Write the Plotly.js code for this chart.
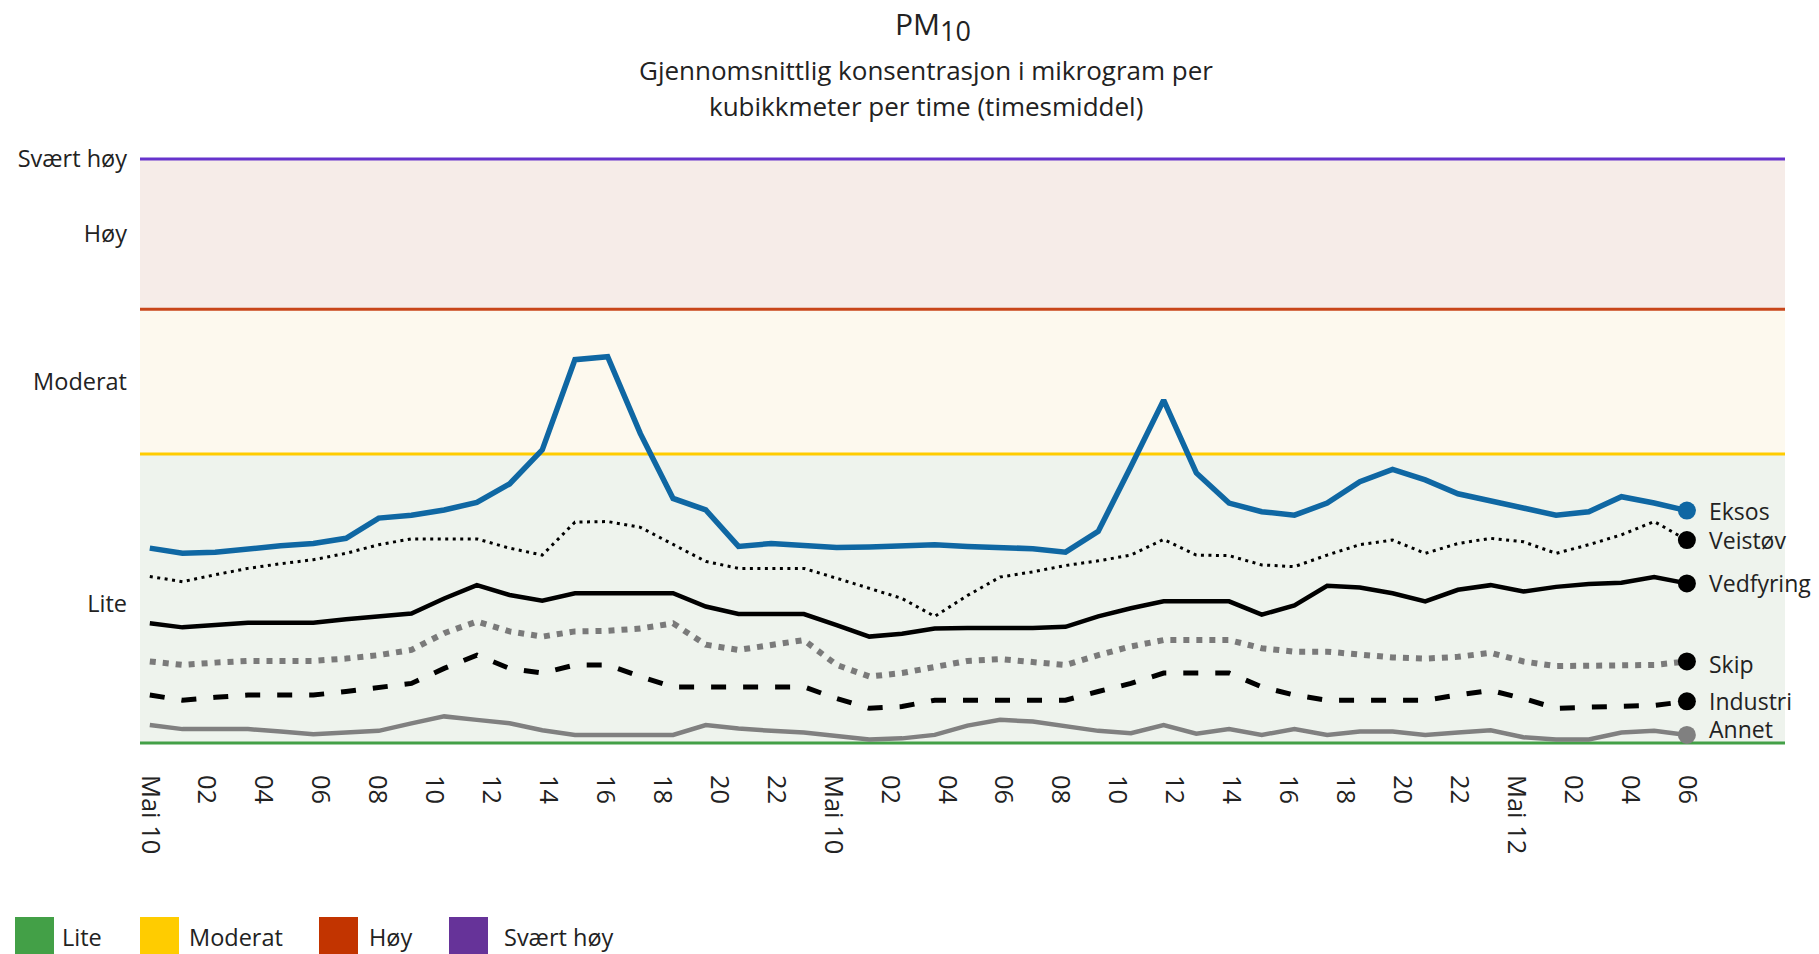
<!DOCTYPE html>
<html>
<head>
<meta charset="utf-8">
<script src="https://cdn.plot.ly/plotly-3.0.1.min.js"></script>
<style>
html, body { margin: 0; padding: 0; background: #ffffff; }
#chart { width: 1819px; height: 954px; }
</style>
</head>
<body>
<div id="chart"></div>
<script>
// ---------- DATA ----------
const seriesNames = ["Eksos", "Veistøv", "Vedfyring", "Skip", "Industri", "Annet"];

const eksos = [33.7, 32.8, 33.0, 33.6, 34.1, 34.5, 35.4, 38.9, 39.4, 40.3, 41.6, 44.8,
  50.7, 66.3, 66.8, 53.5, 42.3, 40.3, 34.0, 34.5, 34.1, 33.8, 33.9, 34.1,
  34.3, 34.0, 33.9, 33.6, 33.0, 36.6, 47.8, 59.3, 46.7, 41.5, 40.0, 39.4,
  41.5, 45.2, 47.3, 45.5, 43.1, 41.8, 40.6, 39.4, 40.0, 42.6, 41.5, 40.2];

const veistov = [28.8, 27.9, 29.1, 30.2, 31.0, 31.7, 32.8, 34.3, 35.3, 35.3, 35.3, 33.7,
  32.5, 38.2, 38.3, 37.3, 34.4, 31.4, 30.2, 30.2, 30.2, 28.5, 26.8, 25.0,
  21.9, 25.5, 28.7, 29.6, 30.7, 31.5, 32.5, 35.2, 32.5, 32.4, 30.8, 30.5,
  32.5, 34.3, 35.1, 32.8, 34.5, 35.4, 34.8, 32.8, 34.3, 36.0, 38.3, 35.1];

const vedfyring = [20.7, 20.0, 20.4, 20.8, 20.8, 20.8, 21.4, 21.9, 22.4, 25.0, 27.3, 25.6,
  24.6, 25.9, 25.9, 25.9, 25.9, 23.6, 22.3, 22.3, 22.3, 20.4, 18.4, 18.9,
  19.8, 19.9, 19.9, 19.9, 20.1, 21.9, 23.3, 24.5, 24.5, 24.5, 22.2, 23.8,
  27.2, 26.9, 25.9, 24.5, 26.5, 27.3, 26.2, 27.0, 27.5, 27.7, 28.7, 27.6];

const skip = [14.1, 13.5, 13.9, 14.2, 14.2, 14.2, 14.6, 15.2, 16.1, 19.0, 21.0, 19.3,
  18.4, 19.3, 19.4, 19.8, 20.7, 17.0, 16.1, 17.0, 17.8, 13.5, 11.5, 12.1,
  13.2, 14.2, 14.5, 13.9, 13.5, 15.2, 16.7, 17.8, 17.8, 17.8, 16.4, 15.8,
  15.8, 15.2, 14.8, 14.6, 14.9, 15.6, 14.1, 13.3, 13.3, 13.3, 13.5, 14.1];

const industri = [8.3, 7.4, 7.9, 8.3, 8.3, 8.3, 8.9, 9.5, 10.3, 12.9, 15.2, 12.9,
  12.1, 13.5, 13.5, 11.5, 9.7, 9.7, 9.7, 9.7, 9.7, 7.7, 6.0, 6.3,
  7.4, 7.4, 7.4, 7.4, 7.4, 8.9, 10.3, 12.1, 12.1, 12.1, 9.7, 8.3,
  7.4, 7.4, 7.4, 7.4, 8.3, 9.1, 7.7, 6.0, 6.2, 6.3, 6.5, 7.2];

const annet = [3.1, 2.4, 2.4, 2.4, 2.0, 1.5, 1.8, 2.1, 3.4, 4.6, 4.0, 3.4,
  2.2, 1.4, 1.4, 1.4, 1.4, 3.1, 2.5, 2.1, 1.8, 1.2, 0.6, 0.8,
  1.4, 3.0, 4.0, 3.7, 2.9, 2.1, 1.7, 3.1, 1.6, 2.4, 1.4, 2.4,
  1.4, 2.0, 2.0, 1.4, 1.8, 2.2, 1.0, 0.6, 0.6, 1.8, 2.1, 1.4];

const seriesValues = [eksos, veistov, vedfyring, skip, industri, annet];

// time axis: 54 hours covered by the samples, labels every 2 hours
const spanHours = 54;
const tickHours = [0, 2, 4, 6, 8, 10, 12, 14, 16, 18, 20, 22, 24, 26, 28, 30, 32, 34, 36, 38, 40, 42, 44, 46, 48, 50, 52, 54];
const tickLabels = ["Mai 10", "02", "04", "06", "08", "10", "12", "14", "16", "18", "20", "22",
  "Mai 10", "02", "04", "06", "08", "10", "12", "14", "16", "18", "20", "22",
  "Mai 12", "02", "04", "06"];

// air quality levels
const levelNames = ["Lite", "Moderat", "Høy", "Svært høy"];
const levelUpper = [50, 75, 101];          // upper edge of Lite, Moderat, Høy
const levelLabelValue = [24, 62.5, 88, 101];

// ---------- STYLE ----------
const FONT = "Open Sans, Noto Sans, sans-serif";
const TXT = "#222222";
const lineStyles = [
  { color: "#0f67a3", width: 5.5, dash: "solid" },
  { color: "#000000", width: 3, dash: "3px,4.5px" },
  { color: "#000000", width: 4.5, dash: "solid" },
  { color: "#7a7a7a", width: 6, dash: "6px,7px" },
  { color: "#000000", width: 5, dash: "15px,17px" },
  { color: "#808080", width: 4.5, dash: "solid" }
];
const markerColors = ["#0f67a3", "#000000", "#000000", "#000000", "#000000", "#808080"];
const labelShift = [0, 0, 0, -3, 0, 6];
const bandFills = ["#eef3ed", "#fdf9ee", "#f6ece8"];
const levelLineColors = ["#43a047", "#ffcc00", "#c8461a", "#6633cc"];
const legendColors = ["#43a047", "#ffcc00", "#c23400", "#663399"];

// ---------- GEOMETRY (page pixels) ----------
const W = 1819, H = 954;
const M = { l: 140, r: 34, t: 159, b: 211 };
const PW = W - M.l - M.r, PH = H - M.t - M.b;
const px2x = p => (p - M.l) / PW;
const py2y = p => (H - M.b - p) / PH;
const Y_MAX = 101;

const nPts = eksos.length;
const idx = eksos.map((_, i) => i);
const hourToIdx = h => h * (nPts - 1) / spanHours;

const traces = [];
seriesValues.forEach((vals, s) => {
  traces.push({
    type: "scatter", mode: "lines", x: idx, y: vals, name: seriesNames[s],
    line: { color: lineStyles[s].color, width: lineStyles[s].width, dash: lineStyles[s].dash },
    hoverinfo: "skip", showlegend: false, cliponaxis: false
  });
});
seriesValues.forEach((vals, s) => {
  traces.push({
    type: "scatter", mode: "markers", x: [idx[nPts - 1]], y: [vals[nPts - 1]],
    marker: { color: markerColors[s], size: 18 }, hoverinfo: "skip", showlegend: false, cliponaxis: false
  });
});

const shapes = [];
const lows = [0].concat(levelUpper.slice(0, 2));
levelUpper.forEach((u, i) => {
  shapes.push({ type: "rect", xref: "paper", yref: "y", x0: 0, x1: 1, y0: lows[i], y1: u,
    fillcolor: bandFills[i], line: { width: 0 }, layer: "below" });
});
// level lines in paper coordinates so they are not clipped at the plot edges
[0].concat(levelUpper).forEach((v, i) => {
  shapes.push({ type: "line", xref: "paper", yref: "paper", x0: 0, x1: 1, y0: v / Y_MAX, y1: v / Y_MAX,
    line: { color: levelLineColors[i], width: 3 }, layer: "below" });
});

// custom legend at bottom
const legendBoxX = [15, 140, 319, 449];
const legendTextX = [60, 187, 367, 502];
const annotations = [];
levelNames.forEach((n, i) => {
  shapes.push({ type: "rect", xref: "paper", yref: "paper",
    x0: px2x(legendBoxX[i]), x1: px2x(legendBoxX[i] + 39),
    y0: py2y(917), y1: py2y(965), fillcolor: legendColors[i], line: { width: 0 } });
  annotations.push({ xref: "paper", yref: "paper", x: px2x(legendTextX[i]), y: py2y(937),
    xanchor: "left", yanchor: "middle", showarrow: false, text: n,
    font: { family: FONT, size: 23.5, color: TXT } });
});

// end labels
seriesNames.forEach((n, s) => {
  annotations.push({ xref: "x", yref: "y", x: idx[nPts - 1], y: seriesValues[s][nPts - 1],
    xanchor: "left", yanchor: "middle", xshift: 20, yshift: labelShift[s], showarrow: false,
    text: n, font: { family: FONT, size: 23, color: TXT } });
});

// subtitle
annotations.push({ xref: "paper", yref: "paper", x: px2x(926), y: py2y(70), xanchor: "center", yanchor: "middle",
  showarrow: false, text: "Gjennomsnittlig konsentrasjon i mikrogram per", font: { family: FONT, size: 26, color: TXT } });
annotations.push({ xref: "paper", yref: "paper", x: px2x(926), y: py2y(106), xanchor: "center", yanchor: "middle",
  showarrow: false, text: "kubikkmeter per time (timesmiddel)", font: { family: FONT, size: 26, color: TXT } });

const layout = {
  width: W, height: H,
  margin: M,
  paper_bgcolor: "#ffffff", plot_bgcolor: "#ffffff",
  font: { family: FONT, color: TXT },
  showlegend: false,
  title: { text: "PM<sub><span style=\"font-size:27px\">10</span></sub>", x: 933 / W, xref: "container", xanchor: "center",
    y: 1 - 24 / H, yref: "container", yanchor: "middle",
    font: { family: FONT, size: 30, color: TXT } },
  xaxis: {
    range: [-0.3, 50], showgrid: false, zeroline: false, showline: false, ticks: "",
    tickmode: "array", tickvals: tickHours.map(hourToIdx), ticktext: tickLabels,
    tickangle: 90, tickfont: { family: FONT, size: 25.5, color: TXT }, ticklabelstandoff: 31,
    fixedrange: true
  },
  yaxis: {
    range: [0, Y_MAX], showgrid: false, zeroline: false, showline: false, ticks: "",
    tickmode: "array", tickvals: levelLabelValue, ticktext: levelNames,
    tickfont: { family: FONT, size: 23.5, color: TXT }, ticklabelstandoff: 12,
    fixedrange: true
  },
  shapes: shapes,
  annotations: annotations
};

Plotly.newPlot("chart", traces, layout, { displayModeBar: false, staticPlot: true });
</script>
</body>
</html>
